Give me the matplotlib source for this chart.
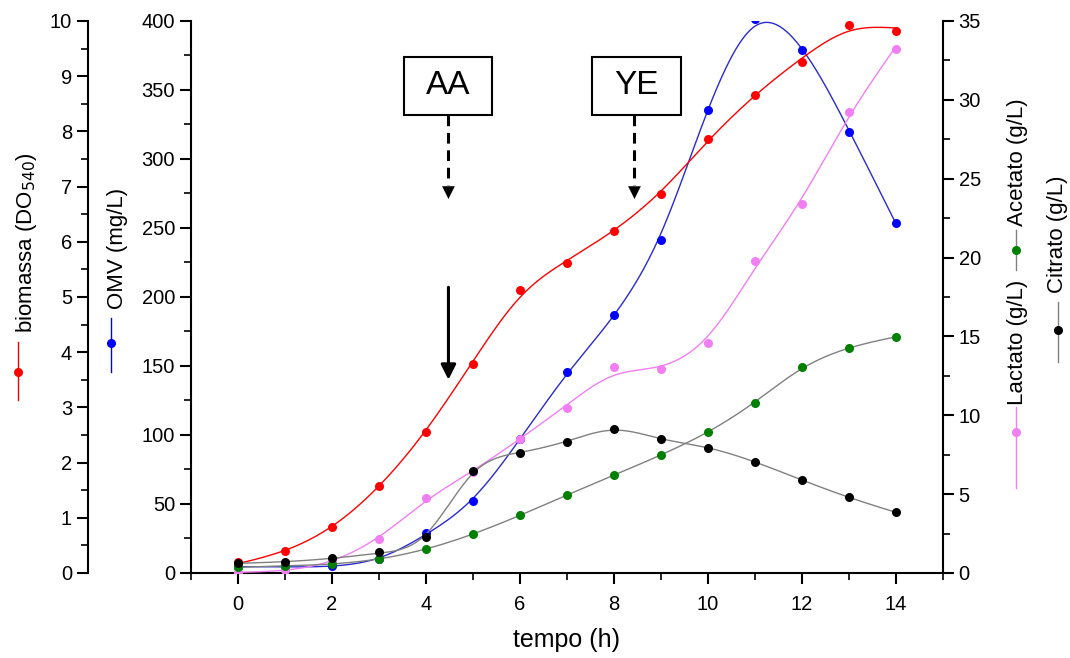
import numpy as np
import matplotlib
matplotlib.use("Agg")
import matplotlib.pyplot as plt
from matplotlib.lines import Line2D
from matplotlib.patches import Rectangle

plt.rcParams['font.family'] = ['Liberation Sans', 'DejaVu Sans']

# data
tempo = [0, 1, 2, 3, 4, 5, 6, 7, 8, 9, 10, 11, 12, 13, 14]
biomassa = [0.19, 0.40, 0.83, 1.58, 2.56, 3.79, 5.13, 5.61, 6.20, 6.86, 7.86, 8.65, 9.26, 9.93, 9.81]
omv = [4.6, 4.6, 5.3, 10.1, 29.2, 52.4, 97.3, 145.4, 187, 241.3, 335.5, 401.2, 379, 319.8, 253.4]
lactato = [0.08, 0.19, 0.75, 2.14, 4.78, 6.4, 8.5, 10.48, 13.04, 12.92, 14.56, 19.78, 23.37, 29.2, 33.25]
acetato = [0.36, 0.46, 0.57, 0.89, 1.52, 2.47, 3.65, 4.95, 6.19, 7.50, 8.92, 10.76, 13.06, 14.25, 14.94]
citrato = [0.61, 0.72, 0.93, 1.31, 2.30, 6.47, 7.59, 8.33, 9.11, 8.48, 7.95, 7.04, 5.90, 4.80, 3.85]


def smooth_curve(x, y, lam=0.02, step=0.05):
    # penalised (smoothing-spline like) curve, only used to draw the fitted line
    x = np.asarray(x, float)
    y = np.asarray(y, float)
    g = np.arange(x[0], x[-1] + step / 2, step)
    n = len(g)
    idx = np.round((x - x[0]) / step).astype(int)
    W = np.zeros((n, n))
    rhs = np.zeros(n)
    W[idx, idx] = 1.0
    rhs[idx] = y
    D = np.zeros((n - 2, n))
    for i in range(n - 2):
        D[i, i:i + 3] = [1, -2, 1]
    f = np.linalg.solve(W + lam / step ** 3 * D.T @ D, rhs)
    return g, f


fig = plt.figure(figsize=(10.7, 6.58), dpi=100)
ax = fig.add_axes([0.1785, 0.1292, 0.7025, 0.839])
ax_bio = ax.twinx()
ax_r = ax.twinx()

red = '#ff0000'
blue = '#0000ff'
pink = '#f27ff2'
green = '#008000'
grey = '#808080'
ms = 6.5
lw = 1.0

# right axis series
xs, ys = smooth_curve(tempo, lactato, lam=0.08)
ax_r.plot(xs, ys, color=pink, lw=lw)
ax_r.plot(tempo, lactato, 'o', color=pink, ms=ms, mec='none')
xs, ys = smooth_curve(tempo, acetato, lam=0.05)
ax_r.plot(xs, ys, color=grey, lw=lw)
ax_r.plot(tempo, acetato, 'o', color=green, ms=ms, mec='none')
xs, ys = smooth_curve(tempo, citrato, lam=0.01)
ax_r.plot(xs, ys, color=grey, lw=lw)
ax_r.plot(tempo, citrato, 'o', color='black', ms=ms, mec='none')

xs, ys = smooth_curve(tempo, omv, lam=0.04)
ax.plot(xs, ys, color='#2a2ad0', lw=lw, zorder=3)
ax.plot(tempo, omv, 'o', color=blue, ms=ms, mec='none', zorder=3)

xs, ys = smooth_curve(tempo, biomassa, lam=0.1)
ax_bio.plot(xs, ys, color=red, lw=lw)
ax_bio.plot(tempo, biomassa, 'o', color=red, ms=ms, mec='none')

# axes setup
ax.set_xlim(-1, 15)
ax.set_ylim(0, 400)
ax_bio.set_ylim(0, 10)
ax_r.set_ylim(0, 35)
ax.set_xticks(range(0, 15, 2))
ax.set_xticks(range(-1, 16, 1), minor=True)
ax.set_yticks(range(0, 401, 50))
ax.set_yticks(range(0, 401, 25), minor=True)
ax_bio.set_yticks(range(0, 11))
ax_bio.set_yticks(np.arange(0, 10.01, 0.5), minor=True)
ax_r.set_yticks(range(0, 36, 5))
ax_r.set_yticks(np.arange(0, 35.01, 2.5), minor=True)

ax_bio.yaxis.set_ticks_position('left')
ax_bio.yaxis.set_label_position('left')
ax_bio.spines['left'].set_position(('axes', -0.137))
for a in (ax, ax_bio, ax_r):
    a.spines['top'].set_visible(False)
ax_bio.spines['right'].set_visible(False)
ax_bio.spines['bottom'].set_visible(False)
ax.spines['right'].set_visible(False)
ax_r.spines['left'].set_visible(False)
ax_r.spines['bottom'].set_visible(False)
for a in (ax, ax_bio, ax_r):
    for s in a.spines.values():
        s.set_linewidth(1.5)
    a.tick_params(which='major', direction='out', length=8, width=1.5, labelsize=14.5)
    a.tick_params(which='minor', direction='out', length=5, width=1.2)
ax.tick_params(axis='x', which='major', pad=8)
ax.patch.set_visible(False)

ax.set_xlabel('tempo (h)', fontsize=18, labelpad=10)

# axis titles with legend symbols
fs_lab = 16
fig.text(27 / 1070, 1 - 243 / 658, 'biomassa (DO$_{540}$)', rotation=90,
         fontsize=fs_lab, ha='center', va='center')
fig.text(118 / 1070, 1 - 248 / 658, 'OMV (mg/L)', rotation=90,
         fontsize=fs_lab, ha='center', va='center')
fig.text(1017 / 1070, 1 - 342 / 658, 'Lactato (g/L)', rotation=90,
         fontsize=fs_lab, ha='center', va='center')
fig.text(1017 / 1070, 1 - 162 / 658, 'Acetato (g/L)', rotation=90,
         fontsize=fs_lab, ha='center', va='center')
fig.text(1058 / 1070, 1 - 234 / 658, 'Citrato (g/L)', rotation=90,
         fontsize=fs_lab, ha='center', va='center')


def symbol(xp, y0, y1, ym, col, lcol):
    fig.add_artist(Line2D([xp / 1070, xp / 1070], [1 - y0 / 658, 1 - y1 / 658],
                          transform=fig.transFigure, color=lcol, lw=1.0))
    fig.add_artist(Line2D([xp / 1070], [1 - ym / 658], transform=fig.transFigure,
                          marker='o', color=col, ms=ms, mec='none'))


symbol(18, 342, 400, 372, red, red)
symbol(111, 318, 372, 343, blue, blue)
symbol(1016, 407, 488, 432, pink, pink)
symbol(1016, 230, 270, 250, green, grey)
symbol(1058, 302, 362, 330, 'black', grey)

# annotations: AA and YE boxes with dashed arrows, solid arrow
boxes = [('AA', 3.54, 5.41, 4.48), ('YE', 7.53, 9.44, 8.44)]
for label, x0, x1, xa in boxes:
    ax.add_patch(Rectangle((x0, 332), x1 - x0, 42, fc='white', ec='black',
                           lw=1.5, zorder=5))
    ax.text((x0 + x1) / 2, 353, label, fontsize=24, ha='center', va='center', zorder=6)
    ax.plot([xa, xa], [332, 281], color='black', lw=2.2, ls=(0, (3.5, 2.2)), zorder=5)
    ax.annotate('', xy=(xa, 269), xytext=(xa, 282),
                arrowprops=dict(arrowstyle='-|>,head_length=0.9,head_width=0.45',
                                color='black', lw=0.1), zorder=5)
ax.annotate('', xy=(4.48, 138), xytext=(4.48, 209),
            arrowprops=dict(arrowstyle='-|>,head_length=0.9,head_width=0.45',
                            color='black', lw=2.2), zorder=5)

fig.savefig('out.png', dpi=100)
